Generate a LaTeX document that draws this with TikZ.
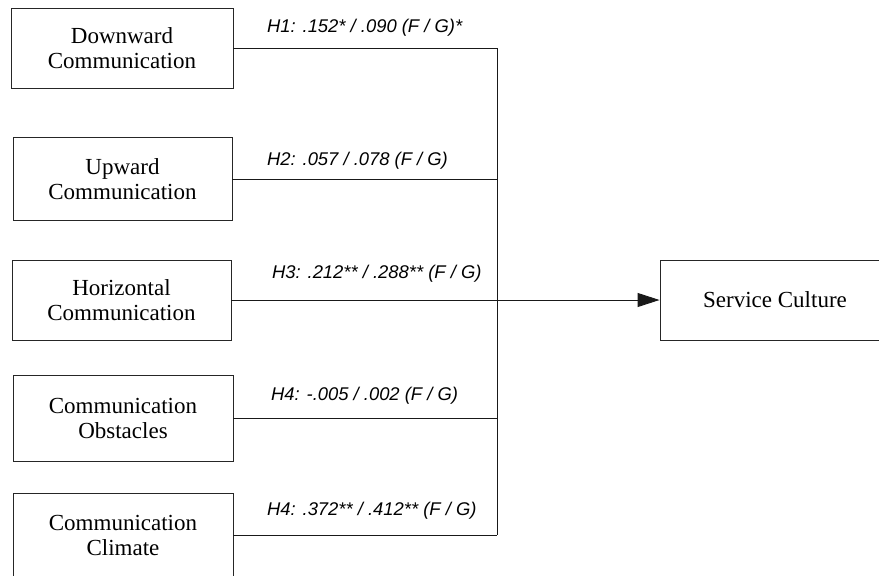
\documentclass[tikz,border=0pt]{standalone}
\usepackage{fontspec}
\setmainfont{Liberation Serif}
\newfontfamily\pathfont{Liberation Sans}
\usetikzlibrary{arrows.meta}
\tikzset{
  construct/.style={draw=black!85, line width=0.9pt, align=center, inner sep=0pt,
    font=\fontsize{23}{25}\selectfont},
  path label/.style={anchor=base west, inner sep=0pt,
    font=\pathfont\itshape\fontsize{18.4}{20}\selectfont},
  link/.style={draw=black!90, line width=0.9pt},
}
\begin{document}
\begin{tikzpicture}[x=1pt,y=-1pt]
\useasboundingbox (0,0) rectangle (879,576);

% predictor constructs
\node[construct, minimum width=222pt, minimum height=80pt] (down) at (122,48) {Downward\\Communication};
\node[construct, minimum width=219pt, minimum height=83pt] (up) at (122.5,179) {Upward\\Communication};
\node[construct, minimum width=219pt, minimum height=80pt] (horiz) at (121.5,300) {Horizontal\\Communication};
\node[construct, minimum width=220pt, minimum height=86pt] (obst) at (123,418) {Communication\\Obstacles};
\node[construct, minimum width=220pt, minimum height=84pt] (clim) at (123,535) {Communication\\Climate};

% outcome construct
\node[construct, minimum width=230pt, minimum height=80pt] (sc) at (775,300) {Service Culture};

% collecting bus
\coordinate (bus) at (497,0);
\draw[link] (down.east) -- (down.east -| bus);
\draw[link] (up.east) -- (up.east -| bus);
\draw[link] (obst.east) -- (obst.east -| bus);
\draw[link] (clim.east) -- (clim.east -| bus);
\draw[link] (down.east -| bus) -- (clim.east -| bus);

% main path into the outcome
\draw[link, -{Triangle[length=22pt, width=14pt]}] (horiz.east) -- (sc.west);

% path coefficients
\node[path label] (l1) at (267,32) {H1: .152* / .090 (F / G)*};
\node[path label] (l2) at (267,165) {H2: .057 / .078 (F / G)};
\node[path label] (l3) at (272,278) {H3: .212** / .288** (F / G)};
\node[path label] (l4) at (271,400) {H4: -.005 / .002 (F / G)};
\node[path label] (l5) at (267,515) {H4: .372** / .412** (F / G)};
\end{tikzpicture}
\end{document}
